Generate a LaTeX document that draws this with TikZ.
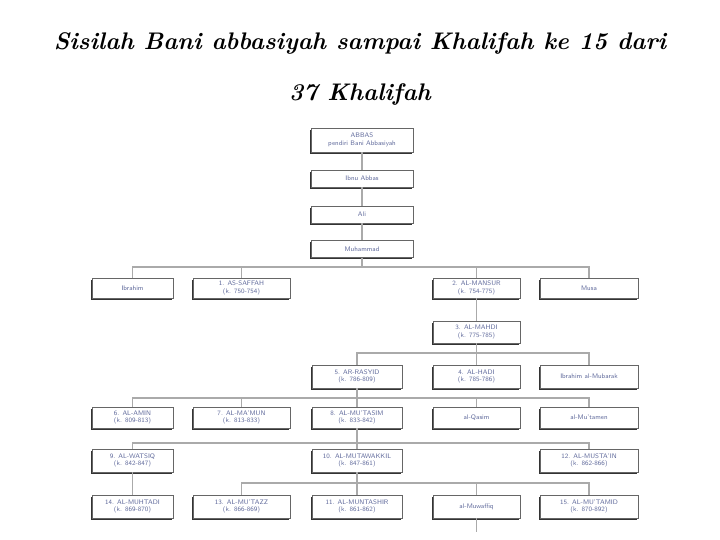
\documentclass[tikz,border=0pt]{standalone}
\definecolor{boxtext}{RGB}{95,105,155}
\definecolor{connc}{RGB}{170,170,170}
\tikzset{
  x=1pt, y=-1pt,
  fam/.style={draw=black!60, line width=0.9pt, fill=white, inner sep=0pt,
    align=center, text=boxtext, font=\sffamily\fontsize{6.6}{7.6}\selectfont,
    preaction={fill=black!80, transform canvas={xshift=-1.4pt, yshift=-1.6pt}}},
  conn/.style={draw=connc, line width=1.8pt},
  ttl/.style={font=\bfseries\itshape\fontsize{24}{28}\selectfont, anchor=base}
}
\begin{document}
\begin{tikzpicture}
\useasboundingbox (0,0) rectangle (720,540);
\fill[white] (0,0) rectangle (720,540);
% connectors first (behind boxes)
\coordinate (b1) at (362,267);
\coordinate (b2) at (476.5,353);
\coordinate (b3) at (357,398);
\coordinate (b4) at (357,443);
\coordinate (b5) at (357,483);
\coordinate (cont) at (476.5,532);
% title
\node[ttl] (t1) at (360,50) {Sisilah Bani abbasiyah sampai Khalifah ke 15 dari};
\node[ttl] (t2) at (360,101) {37 Khalifah};
% top chain
\node[fam, minimum width=102, minimum height=24] (abbas) at (362,140) {ABBAS\\pendiri Bani Abbasiyah};
\node[fam, minimum width=102, minimum height=17] (ibnu) at (362,178.5) {Ibnu Abbas};
\node[fam, minimum width=102, minimum height=17] (ali) at (362,214.5) {Ali};
\node[fam, minimum width=102, minimum height=17] (muh) at (362,249) {Muhammad};
% row 2
\node[fam, minimum width=81, minimum height=20] (ibr) at (132.5,288) {Ibrahim};
\node[fam, minimum width=97, minimum height=20] (saf) at (241.5,288) {1. AS-SAFFAH\\(k. 750-754)};
\node[fam, minimum width=87, minimum height=20] (man) at (476.5,288) {2. AL-MANSUR\\(k. 754-775)};
\node[fam, minimum width=98, minimum height=20] (musa) at (589,288) {Musa};
% row 3
\node[fam, minimum width=87, minimum height=22] (mah) at (476.5,332) {3. AL-MAHDI\\(k. 775-785)};
% row 4
\node[fam, minimum width=90, minimum height=23] (ras) at (357,376.5) {5. AR-RASYID\\(k. 786-809)};
\node[fam, minimum width=87, minimum height=23] (had) at (476.5,376.5) {4. AL-HADI\\(k. 785-786)};
\node[fam, minimum width=98, minimum height=23] (ibm) at (589,376.5) {Ibrahim al-Mubarak};
% row 5
\node[fam, minimum width=81, minimum height=21] (ami) at (132.5,417.5) {6. AL-AMIN\\(k. 809-813)};
\node[fam, minimum width=97, minimum height=21] (mam) at (241.5,417.5) {7. AL-MA'MUN\\(k. 813-833)};
\node[fam, minimum width=90, minimum height=21] (mts) at (357,417.5) {8. AL-MU'TASIM\\(k. 833-842)};
\node[fam, minimum width=87, minimum height=21] (qas) at (476.5,417.5) {al-Qasim};
\node[fam, minimum width=98, minimum height=21] (mtm) at (589,417.5) {al-Mu'tamen};
% row 6
\node[fam, minimum width=81, minimum height=23] (wat) at (132.5,460.5) {9. AL-WATSIQ\\(k. 842-847)};
\node[fam, minimum width=90, minimum height=23] (mtw) at (357,460.5) {10. AL-MUTAWAKKIL\\(k. 847-861)};
\node[fam, minimum width=98, minimum height=23] (mst) at (589,460.5) {12. AL-MUSTA'IN\\(k. 862-866)};
% row 7
\node[fam, minimum width=81, minimum height=23] (muh14) at (132.5,506.5) {14. AL-MUHTADI\\(k. 869-870)};
\node[fam, minimum width=97, minimum height=23] (mtz) at (241.5,506.5) {13. AL-MU'TAZZ\\(k. 866-869)};
\node[fam, minimum width=90, minimum height=23] (mnt) at (357,506.5) {11. AL-MUNTASHIR\\(k. 861-862)};
\node[fam, minimum width=87, minimum height=23] (mwf) at (476.5,506.5) {al-Muwaffiq};
\node[fam, minimum width=98, minimum height=23] (mtd) at (589,506.5) {15. AL-MU'TAMID\\(k. 870-892)};
% connectors
\draw[conn] (abbas) -- (ibnu);
\draw[conn] (ibnu) -- (ali);
\draw[conn] (ali) -- (muh);
\draw[conn] (muh.south) -- (b1);
\draw[conn] (b1) -| (ibr.north);
\draw[conn] (b1) -| (saf.north);
\draw[conn] (b1) -| (man.north);
\draw[conn] (b1) -| (musa.north);
\draw[conn] (man) -- (mah);
\draw[conn] (mah.south) -- (b2);
\draw[conn] (b2) -| (ras.north);
\draw[conn] (b2) -| (had.north);
\draw[conn] (b2) -| (ibm.north);
\draw[conn] (ras.south) -- (b3);
\draw[conn] (b3) -| (ami.north);
\draw[conn] (b3) -| (mam.north);
\draw[conn] (b3) -- (mts.north);
\draw[conn] (b3) -| (qas.north);
\draw[conn] (b3) -| (mtm.north);
\draw[conn] (mts.south) -- (b4);
\draw[conn] (b4) -| (wat.north);
\draw[conn] (b4) -- (mtw.north);
\draw[conn] (b4) -| (mst.north);
\draw[conn] (wat) -- (muh14);
\draw[conn] (mtw.south) -- (b5);
\draw[conn] (b5) -| (mtz.north);
\draw[conn] (b5) -- (mnt.north);
\draw[conn] (b5) -| (mwf.north);
\draw[conn] (b5) -| (mtd.north);
\draw[conn] (mwf.south) -- (cont);
\end{tikzpicture}
\end{document}
